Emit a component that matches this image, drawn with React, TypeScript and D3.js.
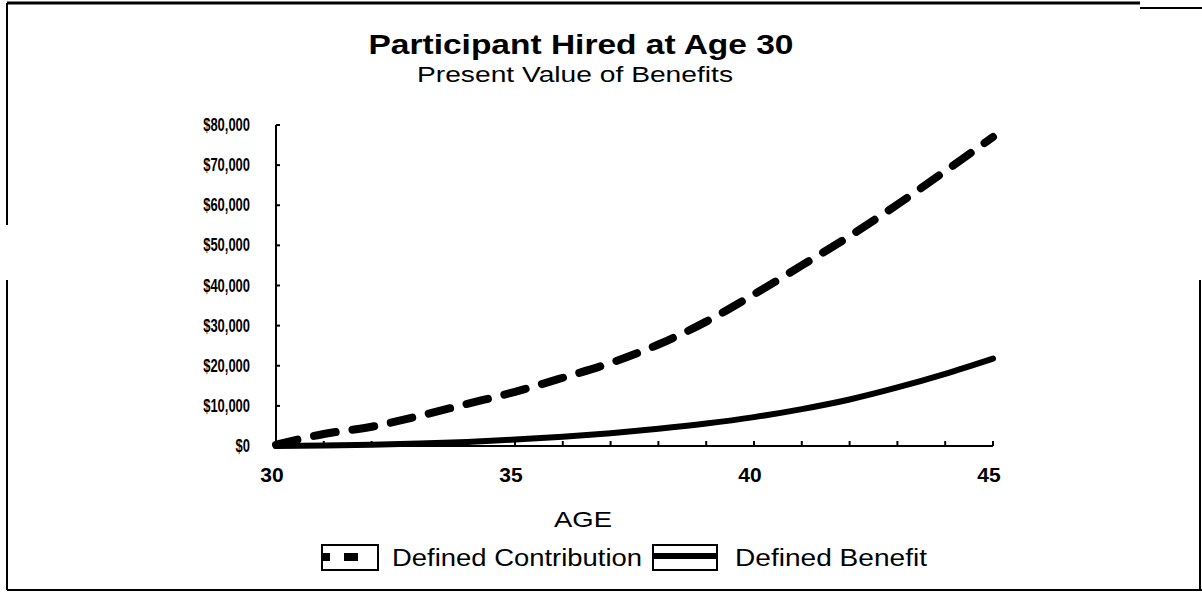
import React from "react";
import * as d3 from "d3";

const ages = [30, 31, 32, 33, 34, 35, 36, 37, 38, 39, 40, 41, 42, 43, 44, 45];
const definedContribution = [300, 3000, 4800, 7500, 10500, 13500, 17000, 20700, 25300, 31000, 37800, 45000, 52300, 60200, 68500, 77000];
const definedBenefit = [0, 100, 300, 600, 1000, 1600, 2300, 3200, 4300, 5600, 7200, 9200, 11600, 14600, 18000, 21800];
const yTicks = [0, 10000, 20000, 30000, 40000, 50000, 60000, 70000, 80000];
const xTickLabels = [30, 35, 40, 45];
const title = "Participant Hired at Age 30";
const subtitle = "Present Value of Benefits";
const xLabel = "AGE";
const seriesNames = ["Defined Contribution", "Defined Benefit"];

export default function App() {
  const font = "'Liberation Sans', Arial, Helvetica, sans-serif";
  const x = d3.scaleLinear().domain([30, 45]).range([276, 993]);
  const y = d3.scaleLinear().domain([0, 80000]).range([446, 125]);
  const line = d3
    .line<number>()
    .x((_, i) => x(ages[i]))
    .y((d) => y(d))
    .curve(d3.curveMonotoneX);
  const fmt = (v: number) => "$" + d3.format(",")(v);
  const yearTicks = d3.range(31, 46);

  return (
    <svg
      width={1202}
      height={594}
      style={{ position: "absolute", left: 0, top: 0, background: "#fff" }}
    >
      {/* frame */}
      <g stroke="#000" fill="none">
        <line x1={7} y1={3} x2={1140} y2={3} strokeWidth={3} />
        <line x1={1140} y1={8} x2={1202} y2={8} strokeWidth={2} />
        <line x1={7} y1={3} x2={7} y2={225} strokeWidth={2} />
        <line x1={7} y1={280} x2={7} y2={590} strokeWidth={2} />
        <line x1={7} y1={590} x2={1202} y2={590} strokeWidth={2} />
        <line x1={1200} y1={280} x2={1200} y2={590} strokeWidth={2} />
      </g>

      {/* titles */}
      <text
        x={581}
        y={54}
        textAnchor="middle"
        fontFamily={font}
        fontWeight="bold"
        fontSize={28}
        textLength={425}
        lengthAdjust="spacingAndGlyphs"
      >
        {title}
      </text>
      <text
        x={575}
        y={82}
        textAnchor="middle"
        fontFamily={font}
        fontSize={22}
        textLength={316}
        lengthAdjust="spacingAndGlyphs"
      >
        {subtitle}
      </text>

      {/* y axis */}
      <line x1={x(30)} y1={y(80000)} x2={x(30)} y2={y(0)} stroke="#000" strokeWidth={2} />
      {yTicks.map((t) => (
        <g key={t}>
          <line x1={x(30)} x2={x(30) + 4} y1={y(t)} y2={y(t)} stroke="#000" strokeWidth={2} />
          <text
            transform={`translate(250,${y(t) + 6}) scale(0.72,1)`}
            textAnchor="end"
            fontFamily={font}
            fontWeight="bold"
            fontSize={18}
          >
            {fmt(t)}
          </text>
        </g>
      ))}

      {/* x axis */}
      <line x1={x(30)} y1={y(0)} x2={x(45)} y2={y(0)} stroke="#000" strokeWidth={2} />
      {yearTicks.map((t) => (
        <line key={t} x1={x(t)} x2={x(t)} y1={y(0)} y2={y(0) - 5} stroke="#000" strokeWidth={2} />
      ))}
      {xTickLabels.map((t) => (
        <text
          key={t}
          x={x(t) - 4}
          y={482}
          textAnchor="middle"
          fontFamily={font}
          fontWeight="bold"
          fontSize={21}
        >
          {t}
        </text>
      ))}
      <text
        x={583}
        y={527}
        textAnchor="middle"
        fontFamily={font}
        fontSize={22}
        textLength={58}
        lengthAdjust="spacingAndGlyphs"
      >
        {xLabel}
      </text>

      {/* series */}
      <path
        d={line(definedBenefit) || ""}
        fill="none"
        stroke="#000"
        strokeWidth={6}
        strokeLinecap="round"
      />
      <path
        d={line(definedContribution) || ""}
        fill="none"
        stroke="#000"
        strokeWidth={8}
        strokeDasharray="22 17"
        strokeLinecap="round"
      />

      {/* legend */}
      <g>
        <rect x={322} y={545} width={56} height={25} fill="#fff" stroke="#000" strokeWidth={2} />
        <line
          x1={323}
          x2={377}
          y1={557}
          y2={557}
          stroke="#000"
          strokeWidth={8}
          strokeDasharray="7 14 14 20"
        />
        <text
          x={392}
          y={566}
          fontFamily={font}
          fontSize={23}
          textLength={250}
          lengthAdjust="spacingAndGlyphs"
        >
          {seriesNames[0]}
        </text>
        <rect x={653} y={545} width={64} height={25} fill="#fff" stroke="#000" strokeWidth={2} />
        <line x1={653} x2={717} y1={556} y2={556} stroke="#000" strokeWidth={6} />
        <text
          x={735}
          y={566}
          fontFamily={font}
          fontSize={23}
          textLength={192}
          lengthAdjust="spacingAndGlyphs"
        >
          {seriesNames[1]}
        </text>
      </g>
    </svg>
  );
}
